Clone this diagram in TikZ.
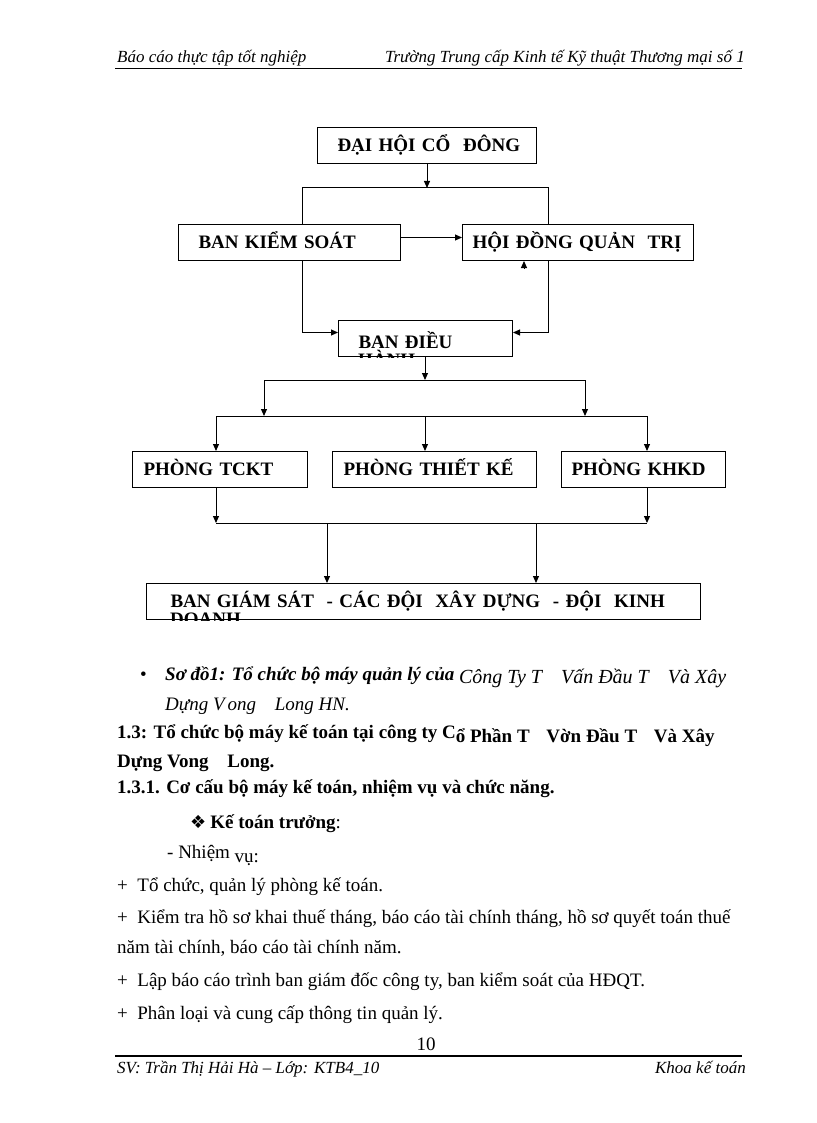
\documentclass[tikz,border=0pt]{standalone}
\usepackage{fontspec}
\setmainfont{Liberation Serif}
\newfontfamily\symfont{DejaVu Sans}
\usetikzlibrary{arrows.meta,positioning}

\tikzset{
  box/.style={draw, line width=1pt, anchor=north west, minimum height=36,
    text height=12.5, text depth=0, align=left, inner xsep=0,
    font=\bfseries\fontsize{19}{22}\selectfont},
  link/.style={line width=1pt},
  arr/.style={link, -{Triangle[length=7pt,width=6pt]}},
  txt/.style={anchor=base west, inner sep=0, font=\fontsize{19}{22}\selectfont},
  hdr/.style={anchor=base west, inner sep=0, font=\itshape\fontsize{17}{20}\selectfont},
}

\begin{document}
\begin{tikzpicture}[x=1pt, y=-1pt]
  \useasboundingbox[fill=white] (0,0) rectangle (816,1123);

  % header
  \node[hdr] (hl) at (117,63) {Báo cáo thực tập tốt nghiệp};
  \node[hdr, anchor=base east] (hr) at (745,63) {Trường Trung cấp Kinh tế Kỹ thuật Thương mại số 1};
  \draw[line width=0.8pt] (115,68) -- (742,68);

  % chart boxes
  \node[box, text width=219] (dhcd) at (317,127) {\hspace*{20pt}ĐẠI HỘI CỔ\ \ ĐÔNG};
  \node[box, text width=222] (bks) at (178,224) {\hspace*{20pt}BAN KIỂM SOÁT};
  \node[box, text width=231] (hdqt) at (462,224) {\hspace*{10pt}HỘI ĐỒNG QUẢN\ \ TRỊ};
  \node[box, text width=174, text height=20.5] (bdh) at (338,320) {\hspace*{20pt}BAN ĐIỀU};
  \node[box, text width=175] (tckt) at (132,451) {\hspace*{11pt}PHÒNG TCKT};
  \node[box, text width=204] (tk) at (332,451) {\hspace*{11pt}PHÒNG THIẾT KẾ};
  \node[box, text width=164] (khkd) at (561,451) {\hspace*{10pt}PHÒNG KHKD};
  \node[box, text width=554] (bgs) at (146,583) {\hspace*{24pt}BAN GIÁM SÁT\ \ - CÁC ĐỘI\ \ XÂY DỰNG\ \ - ĐỘI\ \ KINH};

  % second lines cut off by the boxes
  \begin{scope}
    \clip (bdh.south west) rectangle (bdh.north east);
    \node[txt, font=\bfseries\fontsize{19}{22}\selectfont] (bdh2) at ([xshift=20pt, yshift=-18pt]bdh.base west) {HÀNH};
  \end{scope}
  \begin{scope}
    \clip (bgs.south west) rectangle (bgs.north east);
    \node[txt, font=\bfseries\fontsize{19}{22}\selectfont] (bgs2) at ([xshift=24pt, yshift=-18pt]bgs.base west) {DOANH};
  \end{scope}

  % connectors
  \coordinate (kl) at (302,188);
  \coordinate (kr) at (548,188);
  \draw[arr] (dhcd.south) -- (dhcd.south |- kl);
  \draw[link] (kl |- bks.north) -- (kl) -- (kr) -- (kr |- hdqt.north);
  \draw[arr] ([yshift=5pt]bks.east) -- ([yshift=5pt]bks.east -| hdqt.west);
  \coordinate (up) at (524,268);
  \draw[arr] (up) -- (up |- hdqt.south);
  \draw[arr] (kl |- bks.south) |- ([yshift=6pt]bdh.west);
  \draw[arr] (kr |- hdqt.south) |- ([yshift=6pt]bdh.east);

  \coordinate (m) at (425,380);
  \coordinate (ml) at (264,380);
  \coordinate (mr) at (585,380);
  \draw[arr] (m |- bdh.south) -- (m);
  \draw[link] (ml) -- (mr);
  \coordinate (pl) at (216,416);
  \coordinate (pr) at (647,416);
  \draw[arr] (ml) -- (ml |- pl);
  \draw[arr] (mr) -- (mr |- pl);
  \draw[link] (pl) -- (pr);
  \draw[arr] (pl) -- (pl |- tckt.north);
  \draw[arr] (m |- pl) -- (m |- tk.north);
  \draw[arr] (pr) -- (pr |- khkd.north);

  \coordinate (ql) at (216,523);
  \coordinate (qr) at (647,523);
  \draw[arr] (ql |- tckt.south) -- (ql);
  \draw[arr] (qr |- khkd.south) -- (qr);
  \draw[link] (ql) -- (qr);
  \coordinate (sl) at (327,523);
  \coordinate (sr) at (536,523);
  \draw[arr] (sl) -- (sl |- bgs.north);
  \draw[arr] (sr) -- (sr |- bgs.north);

  % text below the chart
  \node[txt] (bul) at (140,680) {\textbullet};
  \node[txt] (cap1) at (165,680) {\bfseries\itshape Sơ đồ1: Tổ chức bộ máy quản lý của
    \mdseries\fontsize{20}{22}\selectfont\raisebox{-3pt}{Công Ty T\hspace{14pt} Vấn Đầu T\hspace{14pt} Và Xây}};
  \node[txt, font=\itshape\fontsize{19}{22}\selectfont] (cap2) at (165,710) {Dựng V\kern3pt ong\hspace{14pt} Long HN.};
  \node[txt, font=\bfseries\fontsize{19}{22}\selectfont] (h13) at (117,738)
    {1.3: Tổ chức bộ máy kế toán tại công ty C\raisebox{-4pt}{ổ Phần T\hspace{12pt} Vờn Đầu T\hspace{12pt} Và Xây}};
  \node[txt, font=\bfseries\fontsize{19}{22}\selectfont] (h13b) at (117,767) {Dựng Vong\hspace{14pt} Long.};
  \node[txt, font=\bfseries\fontsize{19}{22}\selectfont] (h131) at (117,793) {1.3.1. Cơ cấu bộ máy kế toán, nhiệm vụ và chức năng.};
  \node[txt] (ktt) at (190,828) {{\symfont\fontsize{18}{20}\selectfont ❖}\hspace{4pt}\textbf{Kế toán trưởng}:};
  \node[txt] (nv) at (167,858) {- Nhiệm\ \raisebox{-4pt}{vụ:}};
  \node[txt] (l1) at (117,891) {+\ \ Tổ chức, quản lý phòng kế toán.};
  \node[txt] (l2) at (117,923) {+\ \ Kiểm tra hồ sơ khai\ thuế tháng, báo cáo tài\ chính tháng, hồ sơ quyết toán thuế};
  \node[txt] (l3) at (117,953) {năm tài\ chính, báo cáo tài\ chính năm.};
  \node[txt] (l4) at (117,986) {+\ \ Lập báo cáo trình ban giám\ đốc công ty, ban kiểm\ soát của HĐQT.};
  \node[txt] (l5) at (117,1019) {+\ \ Phân loại và cung cấp thông tin\ quản lý.};

  % footer
  \node[txt, anchor=base] (pg) at (426,1050) {10};
  \draw[line width=1.6pt] (115,1056) -- (742,1056);
  \node[hdr] (fl) at (117,1073) {SV: Trần Thị Hải Hà – Lớp: KTB4\_10};
  \node[hdr, anchor=base east] (fr) at (746,1073) {Khoa kế toán};
\end{tikzpicture}
\end{document}
